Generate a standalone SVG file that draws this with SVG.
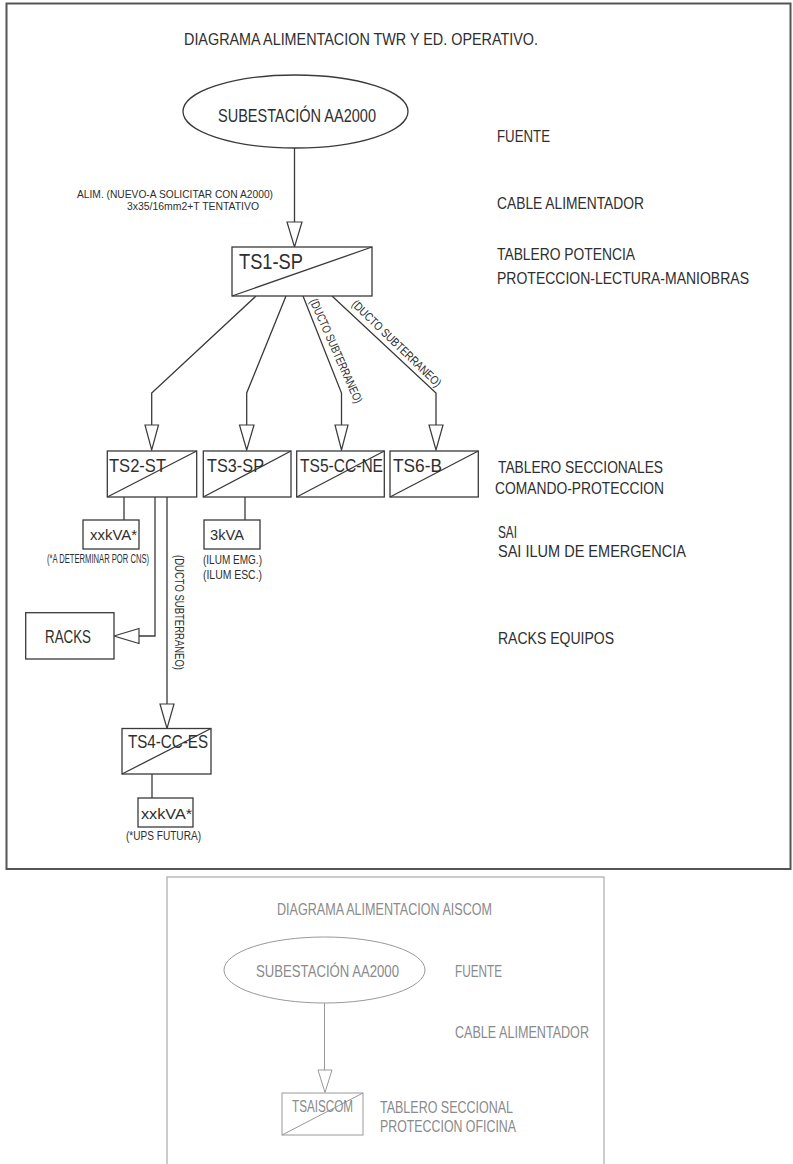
<svg xmlns="http://www.w3.org/2000/svg" width="793" height="1164" viewBox="0 0 793 1164">
<style>
.frame{fill:none;stroke:#555;stroke-width:2}
.frame2{fill:none;stroke:#aaa;stroke-width:1.2}
.ln{fill:none;stroke:#3a3a3a;stroke-width:1.3}
.bx{fill:#fff;stroke:#3a3a3a;stroke-width:1.3}
.ar{fill:#fff;stroke:#3a3a3a;stroke-width:1.2}
.t{font-family:"Liberation Sans",Arial,sans-serif;fill:#2e2e2e}
.g .ln{stroke:#999;stroke-width:1}
.g .bx{stroke:#999;stroke-width:1}
.g .ar{stroke:#999;stroke-width:1}
.g .t{fill:#8a8a8a}
.s17{font-size:17px}
.s19{font-size:19px}
.s15{font-size:15.5px}
.s12{font-size:12px}
.s11{font-size:11.5px}
</style>
<rect class="frame" x="6.5" y="3.5" width="784" height="865.5"/>
<g id="top-panel">
<text class="t s17" x="184" y="45" textLength="354" lengthAdjust="spacingAndGlyphs">DIAGRAMA ALIMENTACION TWR Y ED. OPERATIVO.</text>
<g id="legend">
<text class="t s17" x="497" y="142" textLength="53" lengthAdjust="spacingAndGlyphs">FUENTE</text>
<text class="t s17" x="497" y="209" textLength="147" lengthAdjust="spacingAndGlyphs">CABLE ALIMENTADOR</text>
<text class="t s17" x="497" y="260" textLength="138" lengthAdjust="spacingAndGlyphs">TABLERO POTENCIA</text>
<text class="t s17" x="497" y="284" textLength="252" lengthAdjust="spacingAndGlyphs">PROTECCION-LECTURA-MANIOBRAS</text>
<text class="t s17" x="498" y="473" textLength="165" lengthAdjust="spacingAndGlyphs">TABLERO SECCIONALES</text>
<text class="t s17" x="495" y="494" textLength="169" lengthAdjust="spacingAndGlyphs">COMANDO-PROTECCION</text>
<text class="t s17" x="498" y="538" textLength="19" lengthAdjust="spacingAndGlyphs">SAI</text>
<text class="t s17" x="498" y="557" textLength="188" lengthAdjust="spacingAndGlyphs">SAI ILUM DE EMERGENCIA</text>
<text class="t s17" x="498" y="644" textLength="116" lengthAdjust="spacingAndGlyphs">RACKS EQUIPOS</text>
</g>
<g id="connectors">
<path class="ln" d="M294.5 148V222"/>
<polygon class="ar" points="287,222 302,222 294.5,247"/>
<path class="ln" d="M256 296L151.7 393V425"/>
<polygon class="ar" points="145,425 158.5,425 151.7,450"/>
<path class="ln" d="M286 296L246.7 393V425"/>
<polygon class="ar" points="239.5,425 254,425 246.7,450"/>
<path class="ln" d="M303 296L341.5 393V425"/>
<polygon class="ar" points="335,425 348,425 341.5,450"/>
<path class="ln" d="M332 296L436 393V425"/>
<polygon class="ar" points="429,425 443,425 436,450"/>
<path class="ln" d="M124 497V520"/>
<path class="ln" d="M155 497V636H139"/>
<polygon class="ar" points="114,636 139,628.5 139,643.5"/>
<path class="ln" d="M167 497V704"/>
<polygon class="ar" points="160,704 174,704 167,728.5"/>
<path class="ln" d="M245 497V520"/>
<path class="ln" d="M152 774V798"/>
<text class="t s11" x="77" y="198" textLength="196" lengthAdjust="spacingAndGlyphs">ALIM. (NUEVO-A SOLICITAR CON A2000)</text>
<text class="t s11" x="127" y="210" textLength="132" lengthAdjust="spacingAndGlyphs">3x35/16mm2+T TENTATIVO</text>
<text class="t s12" transform="translate(332.4 352.6) rotate(66)" text-anchor="middle" textLength="113" lengthAdjust="spacingAndGlyphs">(DUCTO SUBTERRANEO)</text>
<text class="t s12" transform="translate(393.7 346.4) rotate(44)" text-anchor="middle" textLength="119" lengthAdjust="spacingAndGlyphs">(DUCTO SUBTERRANEO)</text>
<text class="t s12" transform="translate(175 555) rotate(90)" textLength="115" lengthAdjust="spacingAndGlyphs">(DUCTO SUBTERRANEO)</text>
</g>
<g id="subestacion">
<ellipse class="bx" cx="295.5" cy="111.5" rx="112.5" ry="36.5"/>
<text class="t s19" x="218" y="122" textLength="158" lengthAdjust="spacingAndGlyphs">SUBESTACIÓN AA2000</text>
</g>
<g id="ts1">
<rect class="bx" x="232" y="247" width="140" height="49"/>
<path class="ln" d="M232 296L372 247"/>
<text class="t" style="font-size:22px" x="239" y="269" textLength="64" lengthAdjust="spacingAndGlyphs">TS1-SP</text>
</g>
<g id="ts2">
<rect class="bx" x="107.3" y="451" width="89.4" height="46"/>
<path class="ln" d="M107.3 497L196.7 451"/>
<text class="t s19" x="109" y="472" textLength="57" lengthAdjust="spacingAndGlyphs">TS2-ST</text>
</g>
<g id="ts3">
<rect class="bx" x="203.3" y="451" width="87.7" height="46"/>
<path class="ln" d="M203.3 497L291 451"/>
<text class="t s19" x="207" y="472" textLength="57" lengthAdjust="spacingAndGlyphs">TS3-SP</text>
</g>
<g id="ts5">
<rect class="bx" x="296.7" y="451" width="87.6" height="46"/>
<path class="ln" d="M296.7 497L384.3 451"/>
<text class="t s19" x="300" y="472" textLength="83" lengthAdjust="spacingAndGlyphs">TS5-CC-NE</text>
</g>
<g id="ts6">
<rect class="bx" x="390" y="451" width="88.3" height="46"/>
<path class="ln" d="M390 497L478.3 451"/>
<text class="t s19" x="393" y="472" textLength="49" lengthAdjust="spacingAndGlyphs">TS6-B</text>
</g>
<g id="sai-ts2">
<rect class="bx" x="83" y="520" width="56" height="29"/>
<text class="t s15" x="90" y="540" textLength="47" lengthAdjust="spacingAndGlyphs">xxkVA*</text>
<text class="t s12" x="47" y="563" textLength="102" lengthAdjust="spacingAndGlyphs">(*A DETERMINAR POR CNS)</text>
</g>
<g id="sai-ts3">
<rect class="bx" x="204" y="520" width="56" height="29"/>
<text class="t s15" x="210" y="540" textLength="34" lengthAdjust="spacingAndGlyphs">3kVA</text>
<text class="t s12" x="203" y="564" textLength="59" lengthAdjust="spacingAndGlyphs">(ILUM EMG.)</text>
<text class="t s12" x="203" y="579" textLength="59" lengthAdjust="spacingAndGlyphs">(ILUM ESC.)</text>
</g>
<g id="racks">
<rect class="bx" x="25.7" y="612.7" width="88.3" height="46.3"/>
<text class="t s19" x="45" y="643" textLength="46" lengthAdjust="spacingAndGlyphs">RACKS</text>
</g>
<g id="ts4">
<rect class="bx" x="122" y="728.5" width="89" height="45.5"/>
<path class="ln" d="M122 774L211 728.5"/>
<text class="t s19" x="128" y="748" textLength="80" lengthAdjust="spacingAndGlyphs">TS4-CC-ES</text>
</g>
<g id="sai-ts4">
<rect class="bx" x="138" y="798" width="55" height="29"/>
<text class="t s15" x="141" y="819" textLength="51" lengthAdjust="spacingAndGlyphs">xxkVA*</text>
<text class="t s12" x="126" y="840" textLength="75" lengthAdjust="spacingAndGlyphs">(*UPS FUTURA)</text>
</g>
</g>
<g id="bottom-panel" class="g">
<rect class="frame2" x="167" y="877" width="437" height="300"/>
<text class="t" style="font-size:16.5px" x="277" y="915" textLength="215" lengthAdjust="spacingAndGlyphs">DIAGRAMA ALIMENTACION AISCOM</text>
<text class="t" style="font-size:16.5px" x="455" y="977" textLength="47" lengthAdjust="spacingAndGlyphs">FUENTE</text>
<text class="t" style="font-size:16.5px" x="455" y="1038" textLength="134" lengthAdjust="spacingAndGlyphs">CABLE ALIMENTADOR</text>
<text class="t" style="font-size:16.5px" x="380" y="1113" textLength="133" lengthAdjust="spacingAndGlyphs">TABLERO SECCIONAL</text>
<text class="t" style="font-size:16.5px" x="380" y="1132" textLength="136" lengthAdjust="spacingAndGlyphs">PROTECCION OFICINA</text>
<g id="connectors-aiscom">
<path class="ln" d="M324.5 1003V1070"/>
<polygon class="ar" points="318,1070 332,1070 325,1092.5"/>
</g>
<g id="subestacion-aiscom">
<ellipse class="bx" cx="324.5" cy="970" rx="100.5" ry="33"/>
<text class="t" style="font-size:16.5px" x="256" y="977" textLength="143" lengthAdjust="spacingAndGlyphs">SUBESTACIÓN AA2000</text>
</g>
<g id="tsaiscom">
<rect class="bx" x="282" y="1093" width="81" height="42"/>
<path class="ln" d="M282 1135L363 1093"/>
<text class="t" style="font-size:16px" x="292" y="1112" textLength="61" lengthAdjust="spacingAndGlyphs">TSAISCOM</text>
</g>
</g>
</svg>
